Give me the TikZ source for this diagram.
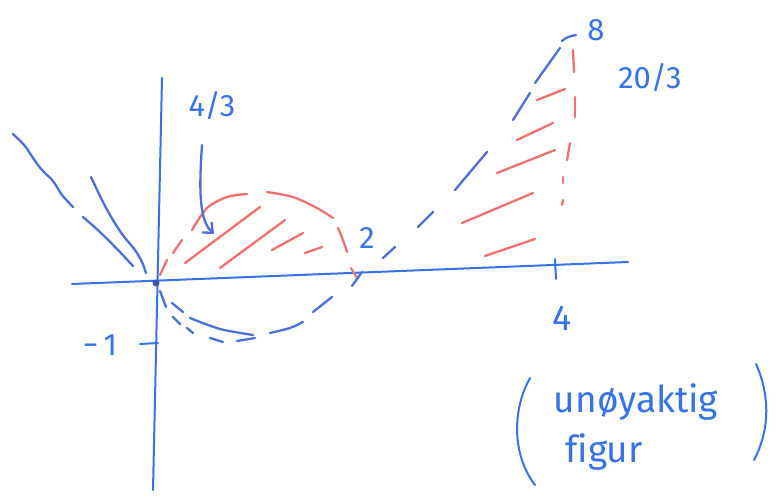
\documentclass[tikz,border=0pt]{standalone}
\usepackage{fontspec}
\setmainfont{Fira Sans}[Ligatures=NoCommon]
\usetikzlibrary{arrows.meta}
\definecolor{penblue}{RGB}{55,115,230}
\definecolor{curveblue}{RGB}{75,112,215}
\definecolor{penred}{RGB}{240,112,112}
\begin{document}
\begin{tikzpicture}[x=1pt,y=-1pt,
  axis/.style={draw=penblue, line width=2pt, line cap=round},
  bl/.style={draw=curveblue, line width=2.3pt, line cap=round},
  rd/.style={draw=penred, line width=2.3pt, line cap=round},
  lbl/.style={text=penblue, inner sep=0pt, font=\fontsize{31}{34}\selectfont},
  note/.style={text=penblue, inner sep=0pt, font=\fontsize{37}{40}\selectfont}]
\useasboundingbox (0,0) rectangle (779,497);
\fill[white] (0,0) rectangle (779,497);

% axes
\coordinate (xl) at (72,284);
\coordinate (xr) at (628,262);
\coordinate (yt) at (162,78);
\coordinate (yb) at (153,490);
\draw[axis] (xl) -- (xr);
\draw[axis] (yt) -- (yb);
\coordinate (O) at (156,283);
\fill[curveblue!80!black] (O) circle (3.5pt);

% ticks
\draw[axis] (555,259) -- (556,279);
\draw[axis] (140,344) -- (158,343);
\draw[rd, line width=2pt] (351,268) -- (357,278);
\draw[bl] (352,286) -- (362,272);

% left branches
\draw[bl] plot[smooth] coordinates {(13,134) (25,146) (33,158) (42,170) (53,181) (62,195) (73,207)};
\draw[bl] plot[smooth] coordinates {(83,217) (100,232) (118,250) (133,266)};
\draw[bl] plot[smooth] coordinates {(91,177) (100,196) (110,215) (122,234) (135,250) (142,262) (146,273)};

% lower curves (dashed by hand)
\draw[bl] (172,303) -- (183,312);
\draw[bl] plot[smooth] coordinates {(190,318) (220,329) (253,335)};
\draw[bl] plot[smooth] coordinates {(270,333) (290,328) (303,322)};
\draw[bl] (313,312) -- (332,297);
\draw[bl] (160,291) -- (166,307);
\draw[bl] (173,317) -- (180,324);
\draw[bl] (187,328) -- (193,333);
\draw[bl] (210,338) -- (223,342);
\draw[bl] (237,341) -- (255,338);

% right rising curve (dashed)
\draw[bl] (383,258) -- (395,247);
\draw[bl] (418,227) -- (433,212);
\draw[bl] (455,190) -- (487,152);
\draw[bl] (513,120) -- (530,93);
\draw[bl] (535,83) -- (560,48);
\draw[bl] (562,41) .. controls (566,37) and (571,36) .. (576,35);

% red arch
\draw[rd] (160,275) -- (167,260);
\draw[rd] (173,253) -- (182,240);
\draw[rd] plot[smooth] coordinates {(192,230) (207,208) (227,197) (247,194)};
\draw[rd] plot[smooth] coordinates {(267,192) (293,197) (317,208) (333,218)};
\draw[rd] plot[smooth] coordinates {(338,228) (343,240) (347,252)};

% red hatching left
\draw[rd] (185,263) -- (260,207);
\draw[rd] (220,268) -- (285,220);
\draw[rd] (272,250) -- (303,233);
\draw[rd] (305,253) -- (322,247);

% red right boundary (dashed)
\draw[rd] (573,50) -- (574,72);
\draw[rd] (575,97) -- (575,117);
\draw[rd] (570,143) -- (567,160);
\draw[rd] (563,177) -- (563,183);
\draw[rd] (563,200) -- (562,205);

% red hatching right
\draw[rd] (537,100) -- (565,89);
\draw[rd] (517,140) -- (553,123);
\draw[rd] (497,173) -- (555,150);
\draw[rd] (462,223) -- (533,193);
\draw[rd] (485,256) -- (535,239);

% arrow
\coordinate (as) at (202,145);
\coordinate (ae) at (214,234);
\draw[bl, -{Straight Barb[length=8pt,width=14pt]}] (as) .. controls (199,190) and (199,220) .. (ae);

% labels
\node[lbl] (l43) at (212,106) {4/3};
\node[lbl] (l2) at (367,238) {2};
\node[lbl, font=\fontsize{36}{40}\selectfont] (l4) at (562,318) {4};
\node[lbl] (l8) at (596,30) {8};
\node[lbl] (l203) at (650,78) {20/3};
\node[lbl] (lm1) at (100,345) {−\,1};

% note
\node[note] (n1) at (636,402) {unøyaktig};
\node[note] (n2) at (604,452) {figur};
\draw[axis, line width=2pt] (530,378) .. controls (512,410) and (512,455) .. (535,485);
\draw[axis, line width=2pt] (756,364) .. controls (770,395) and (770,430) .. (754,460);
\end{tikzpicture}
\end{document}
